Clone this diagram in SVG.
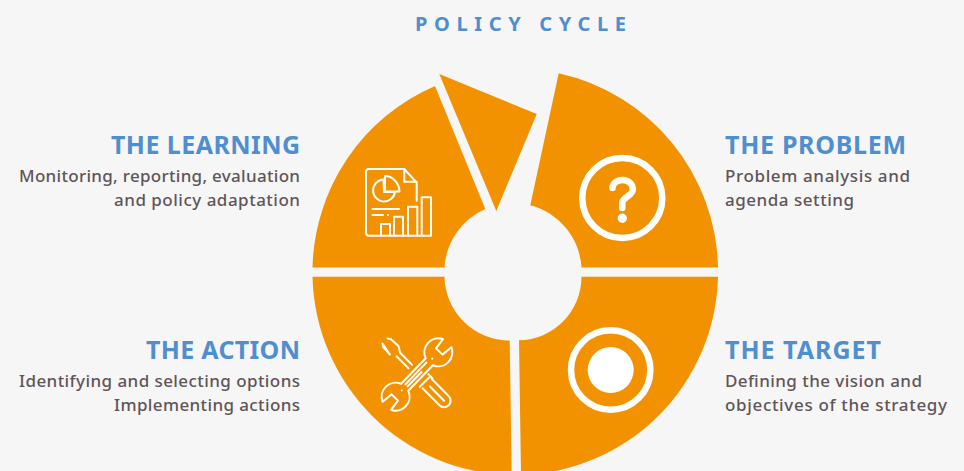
<svg xmlns="http://www.w3.org/2000/svg" width="964" height="471" viewBox="0 0 964 471">
<style>
.seg{fill:#f39200}
.ic{fill:none;stroke:#fff;stroke-width:2;stroke-linejoin:round;stroke-linecap:round}
.t{font-family:"Noto Sans","Liberation Sans",sans-serif;font-weight:700;font-size:25px;fill:#4f8fcf}
.b{font-family:"Noto Sans","Liberation Sans",sans-serif;font-size:17px;font-weight:500;fill:#5f5558}
</style>
<rect width="964" height="471" fill="#f6f6f6"/>
<text id="title" x="415" y="31" textLength="211" lengthAdjust="spacing" style="font-family:'Noto Sans','Liberation Sans',sans-serif;font-weight:700;font-size:20px;fill:#4f8fcf">POLICY CYCLE</text>
<g id="learning">
<path class="seg" d="M312.500 267.500A203 203 0 0 1 435 86L485.300 209A68.500 68.500 0 0 0 444.500 267.500Z"/>
<g class="ic">
<path d="M404.300 169H369a3 3 0 0 0-3 3V232.700a3 3 0 0 0 3 3H431V197.300H421.700V235.700M416.700 200.700V182.700L404.300 169V181.700H416.700"/>
<path d="M408 235.700V206.700H417.300V235.700M394 235.700V216.700H403V235.700M381 235.700V224H390V235.700"/>
<path d="M383.500 179.500A11 11 0 1 0 395 192H384Z"/>
<path d="M385 176C392 176 399 182 399.500 191.500L385 191.500Z"/>
<path d="M372.500 209H399M372.500 215H383M388 215H388.100"/>
</g>
<text class="t" x="111" y="154" textLength="189" lengthAdjust="spacing">THE LEARNING</text>
<text class="b" x="19" y="181.500" textLength="281" lengthAdjust="spacing">Monitoring, reporting, evaluation</text>
<text class="b" x="114" y="205.500" textLength="186" lengthAdjust="spacing">and policy adaptation</text>
</g>
<g id="wedge"><path class="seg" d="M439.300 74L536.700 114L496.300 211Z"/></g>
<g id="problem">
<path class="seg" d="M558.700 73.300A203 203 0 0 1 718 267.500H581.500A68.500 68.500 0 0 0 530.300 205.300Z"/>
<circle cx="622.300" cy="198" r="40" fill="none" stroke="#fff" stroke-width="6.500"/>
<path d="M612.500 188C612.500 183.500 617 180 622.500 180C628.500 180 632.800 184 632.800 189.500C632.800 196 622.300 197 622.300 203V208" fill="none" stroke="#fff" stroke-width="6.500" stroke-linecap="round" stroke-linejoin="round"/>
<circle cx="622.300" cy="218.300" r="4.700" fill="#fff"/>
<text class="t" x="725" y="154" textLength="181" lengthAdjust="spacing">THE PROBLEM</text>
<text class="b" x="725" y="181.500" textLength="185" lengthAdjust="spacing">Problem analysis and</text>
<text class="b" x="725" y="205.500" textLength="129" lengthAdjust="spacing">agenda setting</text>
</g>
<g id="target">
<path class="seg" d="M581.500 276.700H718A203 203 0 0 1 521 475L519 340.300A63.500 63.500 0 0 0 581.500 276.700Z"/>
<circle cx="610.700" cy="370" r="39.700" fill="none" stroke="#fff" stroke-width="6.500"/>
<circle cx="610.700" cy="370" r="23" fill="#fff"/>
<text class="t" x="725" y="359" textLength="156" lengthAdjust="spacing">THE TARGET</text>
<text class="b" x="725" y="386.500" textLength="197" lengthAdjust="spacing">Defining the vision and</text>
<text class="b" x="725" y="410.500" textLength="222" lengthAdjust="spacing">objectives of the strategy</text>
</g>
<g id="action">
<path class="seg" d="M312.500 276.700H444.500A65 65 0 0 0 509.700 340.500L511.700 475A203 203 0 0 1 312.500 276.700Z"/>
<g class="ic">
<g transform="translate(385 341) rotate(45.300)">
<path d="M0 -3.500L3 -5.500L13 -6L19 -2.500L36 -2.500M19 2.500L36 2.500M13 6L3 5.500L0 3.500Z"/>
<path d="M54 -7.500H60M57 -7.500V7.500M60 -6.500H84A6.500 6.500 0 0 1 84 6.500H60M64 0H84"/>
</g>
<g transform="translate(417 374.500) rotate(-46)">
<path fill="#f39200" d="M-17.700 -5H17.700A14 14 0 0 1 43.500 -5.800L32 -4.500V4.500L43.500 5.800A14 14 0 0 1 17.700 5H-17.700A14 14 0 0 1 -43.500 5.800L-32 4.500V-4.500L-43.500 -5.800A14 14 0 0 1 -17.700 -5Z"/>
<path d="M-15 -1.500H15M-15 1.500H5M-22 0H-22.100M22 0H22.100"/>
</g>
</g>
<text class="t" x="146" y="359" textLength="154" lengthAdjust="spacing">THE ACTION</text>
<text class="b" x="19" y="386.500" textLength="281" lengthAdjust="spacing">Identifying and selecting options</text>
<text class="b" x="114" y="410.500" textLength="186" lengthAdjust="spacing">Implementing actions</text>
</g>
</svg>
